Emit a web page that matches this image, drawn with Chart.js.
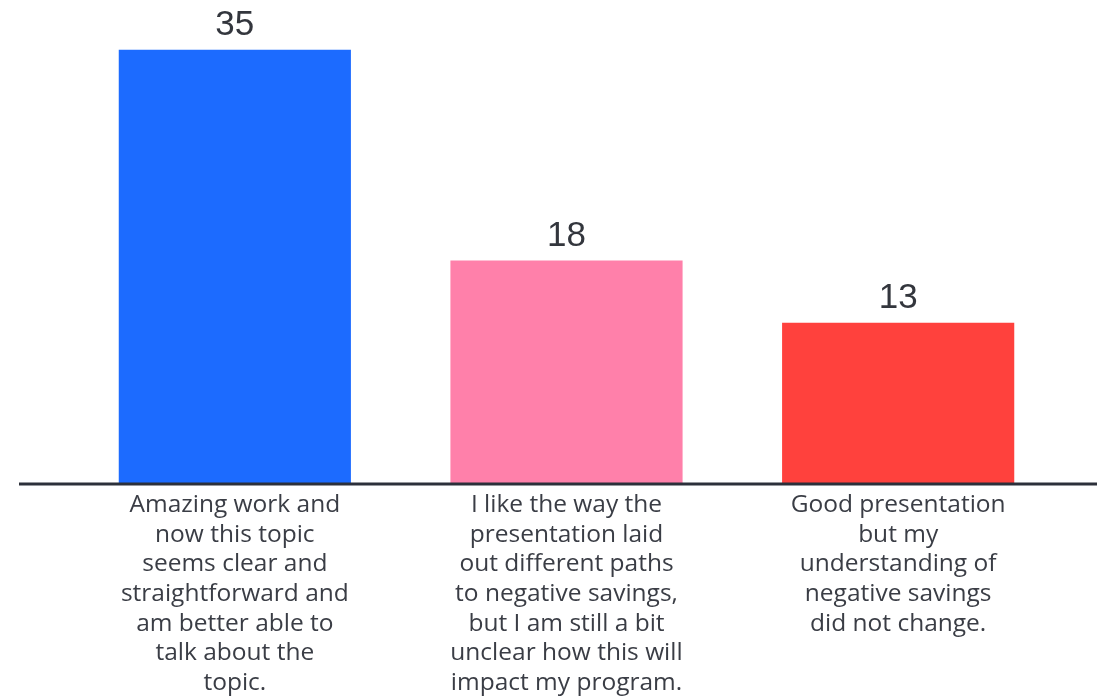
<!DOCTYPE html>
<html>
<head>
<meta charset="utf-8">
<script src="https://cdn.jsdelivr.net/npm/chart.js@4/dist/chart.umd.min.js"></script>
<style>
  html, body { margin: 0; padding: 0; background: #ffffff; }
  #wrap { width: 1097px; height: 697px; position: relative; }
</style>
</head>
<body>
<div id="wrap"><canvas id="c"></canvas></div>
<script>
// Survey responses and their counts
const categories = [
  ["Amazing work and", "now this topic", "seems clear and", "straightforward and", "am better able to", "talk about the", "topic."],
  ["I like the way the", "presentation laid", "out different paths", "to negative savings,", "but I am still a bit", "unclear how this will", "impact my program."],
  ["Good presentation", "but my", "understanding of", "negative savings", "did not change."]
];
const counts = [35, 18, 13];
const barColors = ["#1c6bff", "#ff80aa", "#ff413d"];

// Baseline across the full width plus value labels above each bar
const annotate = {
  id: "annotate",
  afterDatasetsDraw(chart) {
    const { ctx, scales } = chart;
    const y0 = scales.y.getPixelForValue(0);
    ctx.save();
    ctx.strokeStyle = "#2c303a";
    ctx.lineWidth = 3;
    ctx.beginPath();
    ctx.moveTo(19, y0);
    ctx.lineTo(chart.width, y0);
    ctx.stroke();

    ctx.fillStyle = "#33363d";
    ctx.font = "35px 'Liberation Sans', Arial, sans-serif";
    ctx.textAlign = "center";
    ctx.textBaseline = "alphabetic";
    chart.getDatasetMeta(0).data.forEach((bar, i) => {
      ctx.fillText(String(counts[i]), bar.x, bar.y - 15);
    });
    ctx.restore();
  }
};

new Chart(document.getElementById("c"), {
  type: "bar",
  data: {
    labels: categories,
    datasets: [{
      data: counts,
      backgroundColor: barColors,
      borderWidth: 0,
      categoryPercentage: 1.0,
      barPercentage: 0.7
    }]
  },
  options: {
    responsive: true,
    maintainAspectRatio: false,
    animation: false,
    layout: { padding: { left: 69, right: 33, top: 0, bottom: 0 } },
    plugins: { legend: { display: false }, tooltip: { enabled: false } },
    scales: {
      x: {
        grid: { display: false },
        border: { display: false },
        ticks: {
          color: "#3a3d45",
          font: { family: "'Open Sans', sans-serif", size: 24.5, lineHeight: "29.7px" },
          padding: -2,
          maxRotation: 0,
          autoSkip: false
        },
        afterFit(scale) { scale.height = 213; }
      },
      y: {
        display: false,
        min: 0,
        max: 39
      }
    }
  },
  plugins: [annotate]
});
</script>
</body>
</html>
